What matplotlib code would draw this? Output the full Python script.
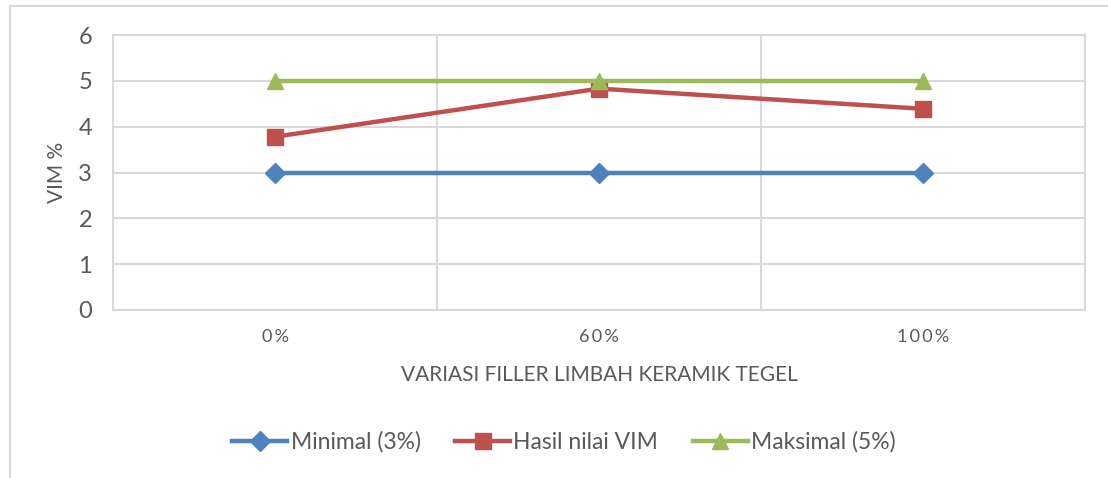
import matplotlib.pyplot as plt
from matplotlib.lines import Line2D

plt.rcParams['font.family'] = ['Lato', 'DejaVu Sans']

categories = ['0%', '60%', '100%']
minimal = [3, 3, 3]
hasil = [3.78, 4.83, 4.39]
maksimal = [5, 5, 5]
labels = ['Minimal (3%)', 'Hasil nilai VIM', 'Maksimal (5%)']

txt = '#595959'
grid = '#D9D9D9'

fig = plt.figure(figsize=(11.08, 4.78), dpi=100)
ax = fig.add_axes([113/1108, 1-310/478, (1085-113)/1108, (310-35)/478])

x = range(len(categories))
ax.plot(x, minimal, color='#4F81BD', lw=3.2, marker='D', ms=10, label=labels[0], zorder=3)
ax.plot(x, hasil, color='#C0504D', lw=3.2, marker='s', ms=11, label=labels[1], zorder=3)
ax.plot(x, maksimal, color='#9BBB59', lw=3.2, marker='^', ms=12, label=labels[2], zorder=3)

ax.set_xlim(-0.5, len(categories) - 0.5)
ax.set_ylim(0, 6)
ax.set_yticks(range(7))
ax.set_xticks(list(x))
ax.set_xticklabels(['\u2009'.join(c) for c in categories], fontsize=13, color=txt)
ax.set_xticks([i + 0.5 for i in range(-1, len(categories))], minor=True)
ax.tick_params(axis='y', labelsize=17, colors=txt, length=0, pad=15)
ax.tick_params(axis='x', which='both', length=0, pad=14)
ax.grid(axis='y', color=grid, lw=1.5)
ax.grid(axis='x', which='minor', color=grid, lw=1.5)
ax.set_axisbelow(True)
for s in ax.spines.values():
    s.set_color(grid)
    s.set_linewidth(1.5)

ax.set_ylabel('VIM %', fontsize=15, color=txt, labelpad=8)
ax.set_xlabel('VARIASI FILLER LIMBAH KERAMIK TEGEL', fontsize=15, color=txt, labelpad=14)

ax.legend(loc='center', bbox_to_anchor=(564/1108, 1-442/478), bbox_transform=fig.transFigure,
          ncol=3, frameon=False, fontsize=16.5, labelcolor=txt, handlelength=2.4,
          handletextpad=0.15, columnspacing=1.5)

# outer chart frame (left and top edges visible)
fig.add_artist(Line2D([9.5/1108, 9.5/1108], [0, 1-6/478], color=grid, lw=1.5))
fig.add_artist(Line2D([9.5/1108, 1], [1-6/478, 1-6/478], color=grid, lw=1.5))

fig.savefig('out.png', dpi=100)
